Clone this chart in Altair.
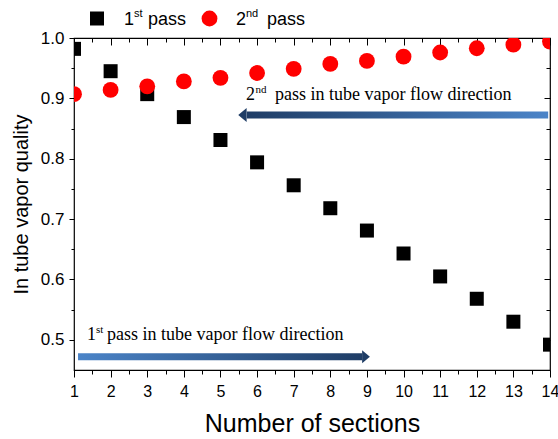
import altair as alt
import pandas as pd

# ---- data ----
sections = list(range(1, 15))
pass1 = [0.982, 0.945, 0.907, 0.869, 0.831, 0.794, 0.756, 0.718, 0.681, 0.643, 0.605, 0.568, 0.530, 0.492]
pass2 = [0.907, 0.914, 0.920, 0.928, 0.934, 0.942, 0.949, 0.957, 0.962, 0.969, 0.976, 0.983, 0.989, 0.994]

x_major = list(range(1, 15))
x_minor = [i + 0.5 for i in range(1, 14)]
y_major = [0.5, 0.6, 0.7, 0.8, 0.9, 1.0]
y_minor = [0.55, 0.65, 0.75, 0.85, 0.95]
x_domain = [1, 14]
y_domain = [0.45, 1.0]

# annotation arrows (data coordinates)
arrow1_x = [1.11, 8.87]
arrow1_y = [0.4661, 0.4777]
arrow1_head = [8.975, 0.4719]
arrow2_x = [5.72, 13.95]
arrow2_y = [0.8667, 0.8783]
arrow2_head = [5.60, 0.8725]
label1_pos = [1.355, 0.4992]
label2_pos = [5.697, 0.898]

LIGHT = "#4b84c8"
DARK = "#1f3d66"
SANS = "Liberation Sans"
SERIF = "Liberation Serif"

df = pd.DataFrame({"section": sections, "pass1": pass1, "pass2": pass2})
xs = alt.Scale(domain=x_domain, nice=False, zero=False)
ys = alt.Scale(domain=y_domain, nice=False, zero=False)

common_axis = dict(grid=False, domain=False, tickColor="black", labelColor="black",
                   labelFont=SANS, titleFont=SANS, titleFontWeight="normal",
                   titleColor="black", labelFlush=False, labelOverlap=False)

base = alt.Chart(df)

squares = base.mark_square(size=196, color="black", opacity=1, clip=True).encode(
    x=alt.X("section:Q", scale=xs, axis=alt.Axis(
        orient="bottom", values=x_major, tickSize=7, labelFontSize=16, labelPadding=6,
        title="Number of sections", titleFontSize=25, titlePadding=12, format="d", **common_axis)),
    y=alt.Y("pass1:Q", scale=ys, axis=alt.Axis(
        orient="left", values=y_major, tickSize=5, labelFontSize=17, labelPadding=5,
        title="In tube vapor quality", titleFontSize=20, titlePadding=9, format=".1f", **common_axis)),
)

circles = base.mark_circle(size=250, color="#ff0000", opacity=1, clip=True).encode(
    x=alt.X("section:Q", scale=xs, axis=alt.Axis(
        orient="bottom", values=x_minor, tickSize=4, labels=False, title=None, **common_axis)),
    y=alt.Y("pass2:Q", scale=ys, axis=alt.Axis(
        orient="left", values=y_minor, tickSize=3, labels=False, title=None, **common_axis)),
)

top_right_major = base.mark_point(opacity=0).encode(
    x=alt.X("section:Q", scale=xs, axis=alt.Axis(
        orient="top", values=x_major, tickSize=7, offset=-7, labels=False, title=None, **common_axis)),
    y=alt.Y("pass1:Q", scale=ys, axis=alt.Axis(
        orient="right", values=y_major, tickSize=6, offset=-6, labels=False, title=None, **common_axis)),
)

top_right_minor = base.mark_point(opacity=0).encode(
    x=alt.X("section:Q", scale=xs, axis=alt.Axis(
        orient="top", values=x_minor, tickSize=4, offset=-4, labels=False, title=None, **common_axis)),
    y=alt.Y("pass2:Q", scale=ys, axis=alt.Axis(
        orient="right", values=y_minor, tickSize=4, offset=-4, labels=False, title=None, **common_axis)),
)

def grad(c0, c1):
    return alt.LinearGradient(gradient="linear",
                              stops=[alt.GradientStop(color=c0, offset=0),
                                     alt.GradientStop(color=c1, offset=1)],
                              x1=0, x2=1, y1=0, y2=0)

arr_df = pd.DataFrame({
    "x": [arrow1_x[0], arrow2_x[0]], "x2": [arrow1_x[1], arrow2_x[1]],
    "y": [arrow1_y[0], arrow2_y[0]], "y2": [arrow1_y[1], arrow2_y[1]],
})
arrow1 = alt.Chart(arr_df.iloc[[0]]).mark_rect(color=grad(LIGHT, DARK)).encode(
    x=alt.X("x:Q", scale=xs, axis=None), x2="x2:Q",
    y=alt.Y("y:Q", scale=ys, axis=None), y2="y2:Q")
arrow2 = alt.Chart(arr_df.iloc[[1]]).mark_rect(color=grad(DARK, LIGHT)).encode(
    x=alt.X("x:Q", scale=xs, axis=None), x2="x2:Q",
    y=alt.Y("y:Q", scale=ys, axis=None), y2="y2:Q")

head1 = alt.Chart(pd.DataFrame({"x": [arrow1_head[0]], "y": [arrow1_head[1]]})).mark_point(
    shape="M-0.6,-1L0.6,0L-0.6,1Z", size=169, filled=True, color=DARK, opacity=1).encode(
    x=alt.X("x:Q", scale=xs, axis=None), y=alt.Y("y:Q", scale=ys, axis=None))
head2 = alt.Chart(pd.DataFrame({"x": [arrow2_head[0]], "y": [arrow2_head[1]]})).mark_point(
    shape="M0.6,-1L-0.6,0L0.6,1Z", size=196, filled=True, color=DARK, opacity=1).encode(
    x=alt.X("x:Q", scale=xs, axis=None), y=alt.Y("y:Q", scale=ys, axis=None))

def ann_text(pos, txt, dx, dy, size):
    return alt.Chart(pd.DataFrame({"x": [pos[0]], "y": [pos[1]], "t": [txt]})).mark_text(
        align="left", baseline="alphabetic", font=SERIF, fontSize=size, color="black",
        dx=dx, dy=dy).encode(
        x=alt.X("x:Q", scale=xs, axis=None), y=alt.Y("y:Q", scale=ys, axis=None), text="t:N")

ann = [
    ann_text(label1_pos, "1", 0, 0, 18),
    ann_text(label1_pos, "st", 9, -7, 11),
    ann_text(label1_pos, "pass in tube vapor flow direction", 20, 0, 18),
    ann_text(label2_pos, "2", 0, 0, 18),
    ann_text(label2_pos, "nd", 9.5, -7, 11),
    ann_text(label2_pos, "pass in tube vapor flow direction", 29, 0, 18),
]

one = pd.DataFrame({"k": [0]})
leg_sq = alt.Chart(one).mark_square(size=196, color="black", opacity=1).encode(
    x=alt.value(23), y=alt.value(-19.5))
leg_ci = alt.Chart(one).mark_circle(size=250, color="#ff0000", opacity=1).encode(
    x=alt.value(135.5), y=alt.value(-19.5))

def leg_text(xp, txt, yp, size):
    return alt.Chart(pd.DataFrame({"t": [txt]})).mark_text(
        align="left", baseline="alphabetic", font=SANS, fontSize=size, color="black").encode(
        x=alt.value(xp), y=alt.value(yp), text="t:N")

legend = [
    leg_sq, leg_ci,
    leg_text(50, "1", -13, 18), leg_text(60, "st", -21, 11), leg_text(74, "pass", -13, 18),
    leg_text(162, "2", -13, 18), leg_text(172, "nd", -21, 11), leg_text(193, "pass", -13, 18),
]

chart = alt.layer(
    squares, circles, top_right_major, top_right_minor,
    arrow1, arrow2, head1, head2, *ann, *legend
).resolve_axis(x="independent", y="independent").properties(
    width=476, height=332, autosize="none",
    padding={"left": 74, "top": 38, "right": 8, "bottom": 69},
    background="white",
).configure_view(stroke="black", strokeWidth=1.2)

chart.save("out.html", embed_options={"renderer": "svg", "actions": False})
